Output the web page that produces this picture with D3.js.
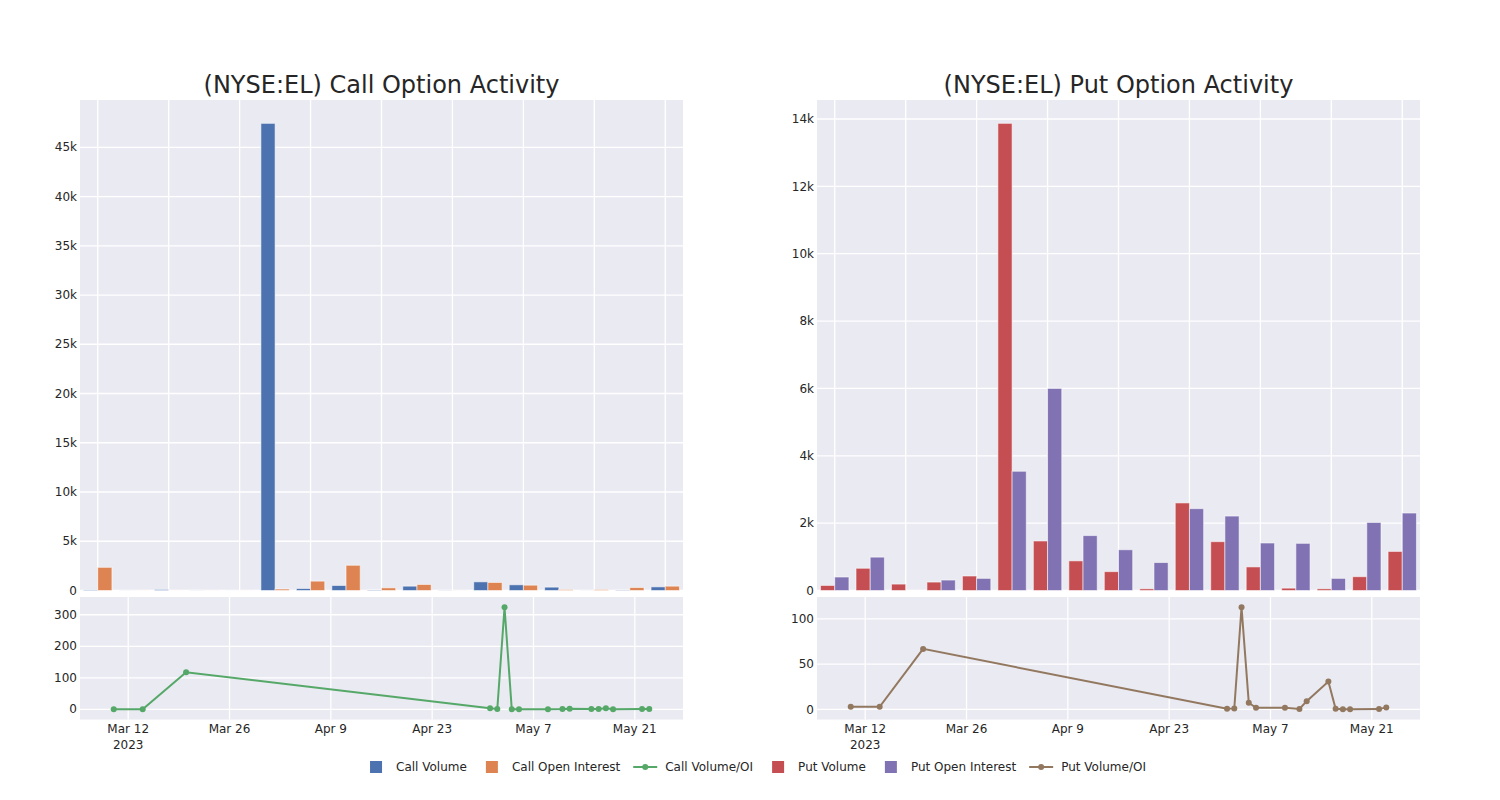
<!DOCTYPE html>
<html>
<head>
<meta charset="utf-8">
<script src="https://cdn.jsdelivr.net/npm/d3@7"></script>
<style>
  html, body { margin: 0; padding: 0; background: #ffffff; }
  svg { display: block; font-family: "DejaVu Sans", sans-serif; }
</style>
</head>
<body>
<svg id="chart" width="1500" height="800"></svg>
<script>
// ---------------- DATA ----------------
const dates = ["2023-03-10","2023-03-14","2023-03-20","2023-05-01","2023-05-02","2023-05-03","2023-05-04","2023-05-05","2023-05-09","2023-05-11","2023-05-12","2023-05-15","2023-05-16","2023-05-17","2023-05-18","2023-05-22","2023-05-23"];

const callVolume       = [60, 10, 100, 15, 5, 47430, 200, 510, 50, 440, 20, 880, 580, 340, 10, 40, 370];
const callOpenInterest = [2350, 10, 5, 10, 5, 146, 950, 2560, 270, 610, 10, 816, 540, 100, 100, 300, 440];
const callVolumeOI     = [0, 0, 117.5, 3.1, 1.0, 324, 0.1, 0.1, 0.2, 1.0, 2.0, 1.0, 1.0, 3.1, 0.2, 1.0, 1.0];

const putVolume        = [150, 660, 190, 250, 430, 13870, 1470, 880, 560, 50, 2600, 1450, 700, 70, 50, 410, 1160];
const putOpenInterest  = [400, 990, 0, 310, 360, 3540, 6000, 1630, 1210, 830, 2430, 2210, 1410, 1400, 360, 2020, 2300];
const putVolumeOI      = [2.9, 2.9, 66.8, 0.7, 1.1, 112.8, 7.3, 1.8, 1.8, 0.4, 9.1, 30.7, 0.7, 0.1, 0.1, 0.3, 2.2];

const callBarTicks  = [0, 5000, 10000, 15000, 20000, 25000, 30000, 35000, 40000, 45000];
const putBarTicks   = [0, 2000, 4000, 6000, 8000, 10000, 12000, 14000];
const callLineTicks = [0, 100, 200, 300];
const putLineTicks  = [0, 50, 100];
const dateTicks     = ["2023-03-12","2023-03-26","2023-04-09","2023-04-23","2023-05-07","2023-05-21"];

const titles = ["(NYSE:EL) Call Option Activity", "(NYSE:EL) Put Option Activity"];
const legendItems = [
  {label: "Call Volume", type: "square", color: "#4C72B0"},
  {label: "Call Open Interest", type: "square", color: "#DD8452"},
  {label: "Call Volume/OI", type: "line", color: "#55A868"},
  {label: "Put Volume", type: "square", color: "#C44E52"},
  {label: "Put Open Interest", type: "square", color: "#8172B3"},
  {label: "Put Volume/OI", type: "line", color: "#937860"}
];

// ---------------- LAYOUT ----------------
const BG = "#EAEAF2", GRID = "#ffffff", TEXT = "#262626";
const parse = d3.timeParse("%Y-%m-%d");
const dateObjs = dates.map(parse);
const svg = d3.select("#chart");

const panels = [
  {x0: 80, x1: 683, title: titles[0], vol: callVolume, oi: callOpenInterest, ratio: callVolumeOI,
   c1: "#4C72B0", c2: "#DD8452", lc: "#55A868", barTicks: callBarTicks, lineTicks: callLineTicks},
  {x0: 817, x1: 1420, title: titles[1], vol: putVolume, oi: putOpenInterest, ratio: putVolumeOI,
   c1: "#C44E52", c2: "#8172B3", lc: "#937860", barTicks: putBarTicks, lineTicks: putLineTicks}
];

const barTop = 100, barBottom = 591, barZero = 590.5;
const lineTop = 597, lineBottom = 719.5;
const dayMs = 86400000;

function fmtK(v) { return v === 0 ? "0" : (v / 1000) + "k"; }
const fmtDate = d3.timeFormat("%b %-d");

panels.forEach((p, pi) => {
  const g = svg.append("g");

  // Title
  g.append("text")
    .attr("x", (p.x0 + p.x1) / 2).attr("y", 93)
    .attr("text-anchor", "middle")
    .attr("font-size", 24).attr("fill", TEXT)
    .text(p.title);

  // ---------- Bar panel ----------
  const xb = d3.scaleBand().domain(d3.range(dates.length)).range([p.x0, p.x1]).paddingInner(0).paddingOuter(0);
  const maxV = d3.max(p.vol.concat(p.oi));
  const yb = d3.scaleLinear().domain([0, maxV * 1.05]).range([barZero, barTop]);

  g.append("rect").attr("x", p.x0).attr("y", barTop)
    .attr("width", p.x1 - p.x0).attr("height", barBottom - barTop).attr("fill", BG);

  const bw = xb.bandwidth();
  // vertical grid at every other category
  g.append("g").selectAll("line")
    .data(d3.range(0, dates.length, 2))
    .join("line")
    .attr("x1", d => xb(d) + bw / 2).attr("x2", d => xb(d) + bw / 2)
    .attr("y1", barTop).attr("y2", barBottom)
    .attr("stroke", GRID).attr("stroke-width", 1.3);

  // horizontal grid
  g.append("g").selectAll("line")
    .data(p.barTicks)
    .join("line")
    .attr("x1", p.x0).attr("x2", p.x1)
    .attr("y1", d => yb(d)).attr("y2", d => yb(d))
    .attr("stroke", GRID).attr("stroke-width", 1.3);

  // y tick labels
  g.append("g").selectAll("text")
    .data(p.barTicks)
    .join("text")
    .attr("x", p.x0 - 3).attr("y", d => yb(d))
    .attr("dy", "0.35em")
    .attr("text-anchor", "end").attr("font-size", 12).attr("fill", TEXT)
    .text(fmtK);

  const frac = 0.4;
  const bars = g.append("g");
  bars.selectAll("rect.v")
    .data(p.vol)
    .join("rect").attr("class", "v")
    .attr("x", (d, i) => xb(i) + bw / 2 - bw * frac)
    .attr("width", bw * frac)
    .attr("y", d => yb(d))
    .attr("height", d => yb(0) - yb(d))
    .attr("fill", p.c1)
    .attr("stroke", "#ffffff").attr("stroke-opacity", 0.55).attr("stroke-width", 1);
  bars.selectAll("rect.o")
    .data(p.oi)
    .join("rect").attr("class", "o")
    .attr("x", (d, i) => xb(i) + bw / 2)
    .attr("width", bw * frac)
    .attr("y", d => yb(d))
    .attr("height", d => yb(0) - yb(d))
    .attr("fill", p.c2)
    .attr("stroke", "#ffffff").attr("stroke-opacity", 0.55).attr("stroke-width", 1);

  // ---------- Line panel ----------
  const ext = d3.extent(dateObjs);
  const pad = 4.66 * dayMs;
  const xl = d3.scaleTime()
    .domain([new Date(ext[0].getTime() - pad), new Date(ext[1].getTime() + pad)])
    .range([p.x0, p.x1]);
  const rmin = d3.min(p.ratio), rmax = d3.max(p.ratio);
  const rr = rmax - rmin;
  const yl = d3.scaleLinear().domain([rmin - 0.1 * rr, rmax + 0.1 * rr]).range([lineBottom, lineTop]);

  g.append("rect").attr("x", p.x0).attr("y", lineTop)
    .attr("width", p.x1 - p.x0).attr("height", lineBottom - lineTop).attr("fill", BG);

  const tickDates = dateTicks.map(parse);
  g.append("g").selectAll("line")
    .data(tickDates)
    .join("line")
    .attr("x1", d => xl(d)).attr("x2", d => xl(d))
    .attr("y1", lineTop).attr("y2", lineBottom)
    .attr("stroke", GRID).attr("stroke-width", 1.3);

  g.append("g").selectAll("line")
    .data(p.lineTicks)
    .join("line")
    .attr("x1", p.x0).attr("x2", p.x1)
    .attr("y1", d => yl(d)).attr("y2", d => yl(d))
    .attr("stroke", GRID).attr("stroke-width", 1.3);

  g.append("g").selectAll("text")
    .data(p.lineTicks)
    .join("text")
    .attr("x", p.x0 - 3).attr("y", d => yl(d))
    .attr("dy", "0.35em")
    .attr("text-anchor", "end").attr("font-size", 12).attr("fill", TEXT)
    .text(d => d);

  const xt = g.append("g").selectAll("text")
    .data(tickDates)
    .join("text")
    .attr("x", d => xl(d)).attr("y", 733)
    .attr("text-anchor", "middle").attr("font-size", 12).attr("fill", TEXT);
  xt.append("tspan").attr("x", d => xl(d)).text(d => fmtDate(d));
  xt.filter((d, i) => i === 0).append("tspan")
    .attr("x", d => xl(d)).attr("dy", 15.5).text(d => d3.timeFormat("%Y")(d));

  const line = d3.line().x((d, i) => xl(dateObjs[i])).y(d => yl(d));
  g.append("path").datum(p.ratio)
    .attr("d", line).attr("fill", "none")
    .attr("stroke", p.lc).attr("stroke-width", 2);
  g.append("g").selectAll("circle")
    .data(p.ratio)
    .join("circle")
    .attr("cx", (d, i) => xl(dateObjs[i])).attr("cy", d => yl(d))
    .attr("r", 3).attr("fill", p.lc);
});

// ---------------- LEGEND ----------------
const lg = svg.append("g");
const legendY = 767;
let cx = 0;
const itemsG = [];
legendItems.forEach((it, i) => {
  const ig = lg.append("g");
  if (it.type === "square") {
    ig.append("rect").attr("x", cx + 6).attr("y", legendY - 6).attr("width", 12).attr("height", 12).attr("fill", it.color);
  } else {
    ig.append("line").attr("x1", cx).attr("x2", cx + 24).attr("y1", legendY).attr("y2", legendY)
      .attr("stroke", it.color).attr("stroke-width", 2);
    ig.append("circle").attr("cx", cx + 12).attr("cy", legendY).attr("r", 3).attr("fill", it.color);
  }
  const t = ig.append("text").attr("x", cx + 32).attr("y", legendY).attr("dy", "0.35em")
    .attr("font-size", 12).attr("fill", TEXT).text(it.label);
  const w = t.node().getComputedTextLength();
  cx = cx + 32 + w + 13;
});
const totalW = cx - 13;
lg.attr("transform", `translate(${755 - totalW / 2},0)`);
</script>
</body>
</html>
